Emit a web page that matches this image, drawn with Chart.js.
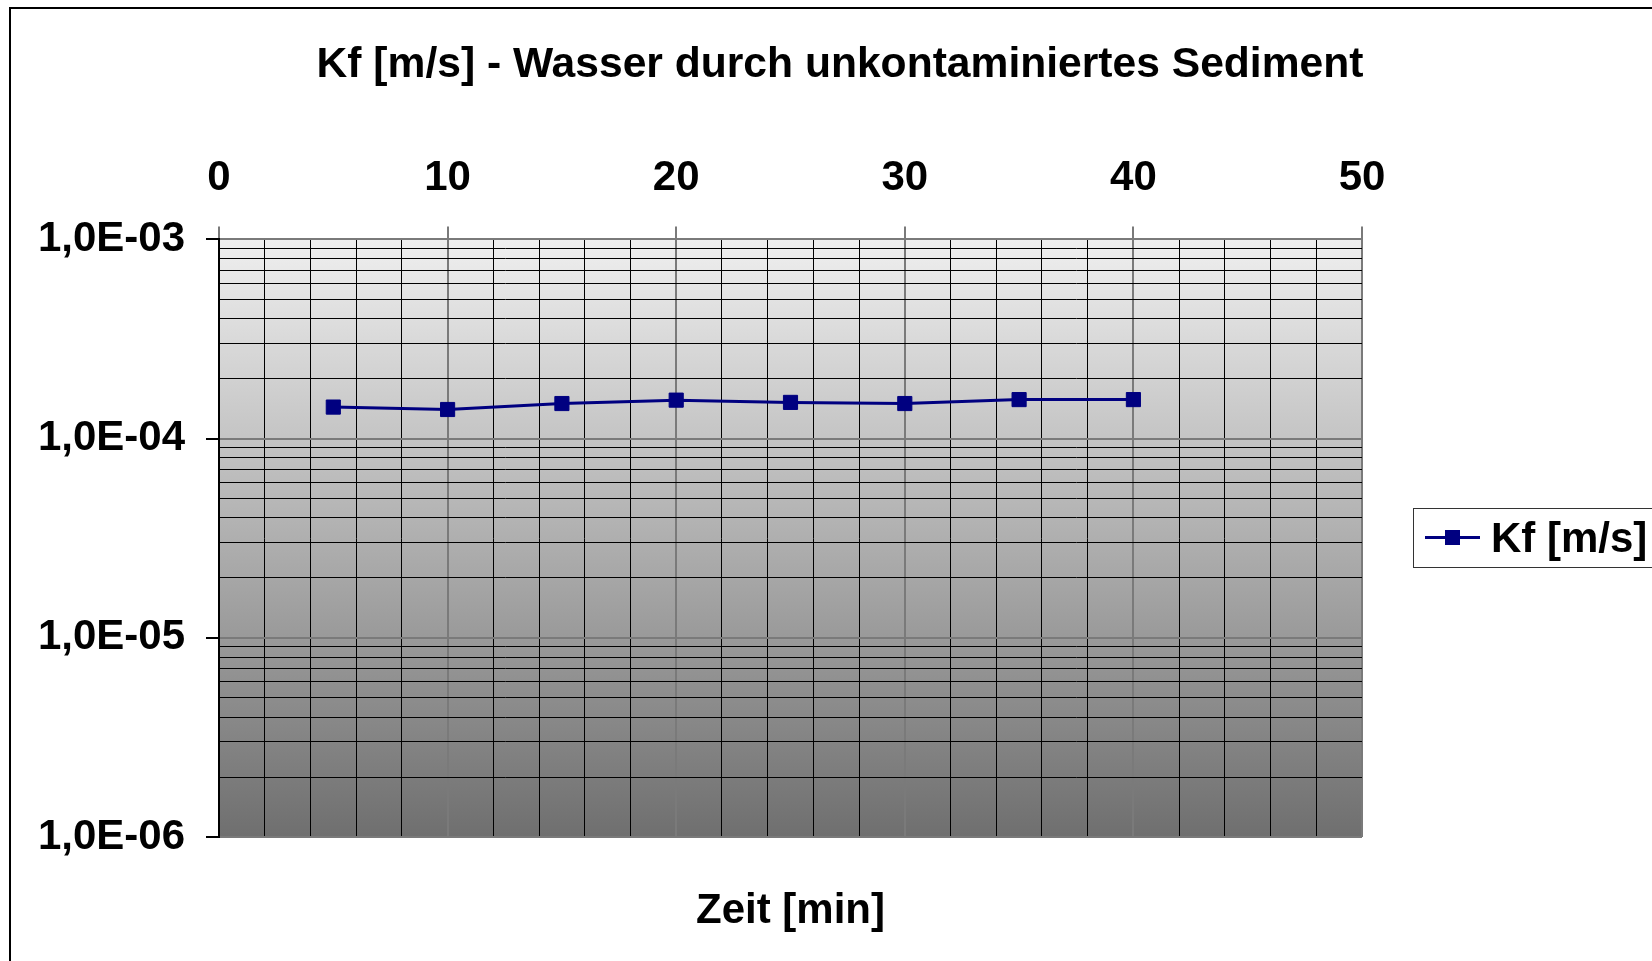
<!DOCTYPE html>
<html>
<head>
<meta charset="utf-8">
<title>Kf - Wasser durch unkontaminiertes Sediment</title>
<script src="https://cdn.jsdelivr.net/npm/chart.js@4/dist/chart.umd.min.js"></script>
<style>
    html, body { margin: 0; padding: 0; background: #fff; overflow: hidden; width: 1652px; height: 961px; }
    #frame { position: absolute; left: 9px; top: 7px; border: 2px solid #000; width: 1658px; height: 980px; }
    #kfChart { display: block; }
</style>
</head>
<body>
<div id="frame">
    <canvas id="kfChart" width="1658" height="980"></canvas>
</div>
<script>
// Messwerte
const zeitMin = [5, 10, 15, 20, 25, 30, 35, 40];
const kfWerte = [1.44e-4, 1.40e-4, 1.50e-4, 1.56e-4, 1.52e-4, 1.50e-4, 1.57e-4, 1.57e-4];

// Achsen
const xMajorTicks = [0, 10, 20, 30, 40, 50];
const xTickLabels = ['0', '10', '20', '30', '40', '50'];
const yDecades = [1e-6, 1e-5, 1e-4, 1e-3];
const yTickLabels = ['1,0E-06', '1,0E-05', '1,0E-04', '1,0E-03'];

const FONT = '"Liberation Sans", Arial, sans-serif';
const NAVY = '#000080';
const MAJOR_GRID = '#7a7a7a';

function isDecade(v) {
    return yDecades.some(d => Math.abs(v / d - 1) < 1e-6);
}

// Hintergrund mit Verlauf hinter dem Diagramm
const plotBackground = {
    id: 'plotBackground',
    beforeDraw(chart) {
        const { ctx, chartArea: a } = chart;
        const grad = ctx.createLinearGradient(0, a.top, 0, a.bottom);
        grad.addColorStop(0, '#efefef');
        grad.addColorStop(1, '#6f6f6f');
        ctx.save();
        ctx.fillStyle = grad;
        ctx.fillRect(a.left, a.top, a.right - a.left, a.bottom - a.top);
        ctx.restore();
    }
};

// Legende mit Rahmen rechts neben dem Diagramm
const boxLegend = {
    id: 'boxLegend',
    afterDraw(chart) {
        const { ctx } = chart;
        const ds = chart.data.datasets[0];
        const left = 1402, top = 499, height = 59;
        const midY = top + height / 2;
        ctx.save();
        ctx.fillStyle = '#fff';
        ctx.fillRect(left, top, chart.width - left + 5, height);
        ctx.strokeStyle = '#333';
        ctx.lineWidth = 1;
        ctx.strokeRect(left + 0.5, top + 0.5, chart.width - left + 5, height);

        ctx.strokeStyle = ds.borderColor;
        ctx.lineWidth = ds.borderWidth;
        ctx.beginPath();
        ctx.moveTo(left + 12, midY);
        ctx.lineTo(left + 67, midY);
        ctx.stroke();
        ctx.fillStyle = ds.pointBackgroundColor;
        ctx.fillRect(left + 39.5 - 7.5, midY - 7.5, 15, 15);

        ctx.fillStyle = '#000';
        ctx.font = 'bold 42px ' + FONT;
        ctx.textBaseline = 'middle';
        ctx.textAlign = 'left';
        ctx.fillText(ds.label, left + 78, midY + 3);
        ctx.restore();
    }
};

const ctx = document.getElementById('kfChart').getContext('2d');
const kfChart = new Chart(ctx, {
    type: 'line',
    data: {
        datasets: [{
            label: 'Kf [m/s]',
            data: zeitMin.map((t, i) => ({ x: t, y: kfWerte[i] })),
            borderColor: NAVY,
            borderWidth: 3,
            pointStyle: 'rect',
            pointRadius: 10,
            pointHoverRadius: 10,
            pointBackgroundColor: NAVY,
            pointBorderColor: NAVY,
            pointBorderWidth: 1,
            tension: 0,
            fill: false
        }]
    },
    options: {
        responsive: false,
        animation: false,
        events: [],
        layout: { padding: 0 },
        plugins: {
            legend: { display: false },
            tooltip: { enabled: false },
            title: {
                display: true,
                text: 'Kf [m/s] - Wasser durch unkontaminiertes Sediment',
                color: '#000',
                font: { family: FONT, size: 42.6, weight: 'bold', lineHeight: 1.2 },
                padding: { top: 31, bottom: 6 }
            }
        },
        scales: {
            x: {
                type: 'linear',
                position: 'top',
                min: 0,
                max: 50,
                ticks: {
                    stepSize: 2,
                    autoSkip: false,
                    maxRotation: 0,
                    padding: 23,
                    color: '#000',
                    font: { family: FONT, size: 42, weight: 'bold', lineHeight: 1.2 },
                    callback: (v) => {
                        const i = xMajorTicks.indexOf(v);
                        return i >= 0 ? xTickLabels[i] : '';
                    }
                },
                grid: {
                    color: (c) => xMajorTicks.includes(c.tick.value) ? MAJOR_GRID : '#000',
                    lineWidth: (c) => xMajorTicks.includes(c.tick.value) ? 2 : 1,
                    tickLength: 13,
                    tickColor: (c) => xMajorTicks.includes(c.tick.value) ? MAJOR_GRID : 'rgba(0,0,0,0)',
                    tickWidth: 2
                },
                border: { display: true, color: MAJOR_GRID, width: 2 },
                afterFit: (scale) => { scale.height = 142.3; }
            },
            x2: {
                type: 'linear',
                position: 'bottom',
                min: 0,
                max: 50,
                ticks: { display: false },
                grid: { display: false },
                border: { display: false },
                title: {
                    display: true,
                    text: 'Zeit [min]',
                    color: '#000',
                    font: { family: FONT, size: 42, weight: 'bold', lineHeight: 1.2 },
                    padding: { top: 0, bottom: 52 }
                },
                afterFit: (scale) => { scale.height = 152; }
            },
            y: {
                type: 'logarithmic',
                position: 'left',
                min: 1e-6,
                max: 1e-3,
                afterBuildTicks: (scale) => {
                    const ticks = [];
                    for (let i = 0; i < yDecades.length - 1; i++) {
                        for (let m = 1; m <= 9; m++) {
                            ticks.push({ value: m * yDecades[i] });
                        }
                    }
                    ticks.push({ value: yDecades[yDecades.length - 1] });
                    scale.ticks = ticks;
                },
                ticks: {
                    autoSkip: false,
                    padding: 21,
                    color: '#000',
                    font: { family: FONT, size: 42, weight: 'bold', lineHeight: 1.2 },
                    callback: (v) => {
                        const i = yDecades.findIndex(d => Math.abs(v / d - 1) < 1e-6);
                        return i >= 0 ? yTickLabels[i] : '';
                    }
                },
                grid: {
                    color: (c) => isDecade(c.tick.value) ? MAJOR_GRID : '#000',
                    lineWidth: (c) => isDecade(c.tick.value) ? 2 : 1,
                    tickLength: 13,
                    tickColor: (c) => isDecade(c.tick.value) ? '#000' : 'rgba(0,0,0,0)',
                    tickWidth: 2
                },
                border: { display: true, color: '#000', width: 2 },
                afterFit: (scale) => { scale.width = 208; }
            },
            // leerer Platz rechts fuer die Legende
            yRight: {
                type: 'linear',
                position: 'right',
                ticks: { display: false },
                grid: { display: false },
                border: { display: false },
                afterFit: (scale) => { scale.width = 307; }
            }
        }
    },
    plugins: [plotBackground, boxLegend]
});
</script>
</body>
</html>
